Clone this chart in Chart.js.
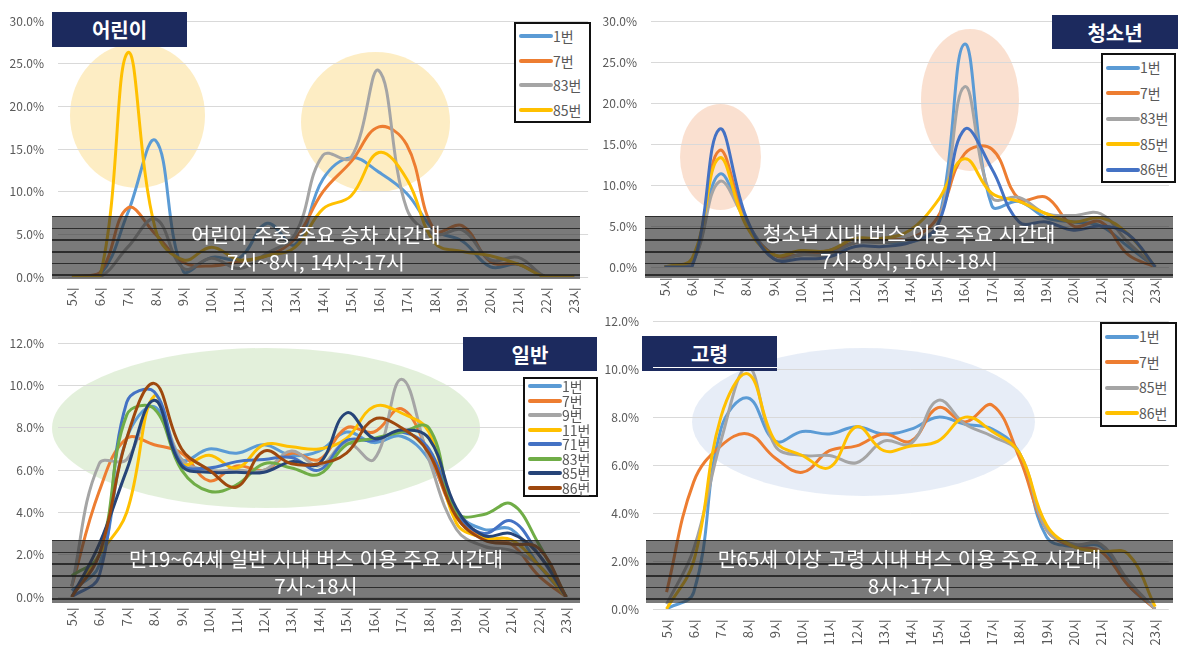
<!DOCTYPE html>
<html lang="ko">
<head>
<meta charset="utf-8">
<title>연령대별 시내버스 이용 시간대</title>
<script src="https://cdn.jsdelivr.net/npm/chart.js@4.4.1/dist/chart.umd.min.js"></script>
<style>
  html, body { margin: 0; padding: 0; background: #fff; }
  body { width: 1181px; height: 645px; position: relative; overflow: hidden;
         font-family: "Noto Sans CJK KR", "Noto Sans", sans-serif; }
  .ellipse { position: absolute; border-radius: 50%; z-index: 0; }
  .plot { position: absolute; z-index: 1; }
  .band { position: absolute; z-index: 2; color: #fff; font-size: 20.5px; line-height: 27px;
          text-align: center; display: flex; flex-direction: column; justify-content: center;
          background-color: rgba(50,50,50,0.65);
          background-image: repeating-linear-gradient(to bottom, rgba(25,25,25,0.8) 0 1.5px, transparent 1.5px 11.7px); }
  .title-box { position: absolute; z-index: 3; background: #1c2a5e; color: #fff; font-weight: bold;
               font-size: 20px; display: flex; align-items: center; justify-content: center; box-sizing: border-box; }
  .legend { position: absolute; z-index: 3; background: #fff; border: 2px solid #111; box-sizing: border-box;
            font-size: 14px; color: #595959; }
  .legend .row { display: flex; align-items: center; padding-left: 3px; }
  .legend .sw { width: 34px; height: 4px; border-radius: 2px; flex-shrink: 0; }
</style>
</head>
<body>

<!-- highlight ellipses (behind the lines) -->
<div class="ellipse" style="left:70px;top:43px;width:135px;height:145px;background:rgba(250,208,100,0.38)"></div>
<div class="ellipse" style="left:301px;top:52px;width:149px;height:140px;background:rgba(250,208,100,0.38)"></div>
<div class="ellipse" style="left:680px;top:104px;width:81px;height:106px;background:rgba(240,160,110,0.32)"></div>
<div class="ellipse" style="left:921px;top:29px;width:98px;height:142px;background:rgba(240,160,110,0.32)"></div>
<div class="ellipse" style="left:52px;top:348px;width:428px;height:160px;background:rgba(169,209,142,0.32)"></div>
<div class="ellipse" style="left:692px;top:348px;width:343px;height:148px;background:rgba(180,199,231,0.32)"></div>

<div class="plot" style="left:0;top:0;width:600px;height:322px"><canvas id="kidsChart"></canvas></div>
<div class="plot" style="left:590px;top:0;width:591px;height:320px"><canvas id="teenChart"></canvas></div>
<div class="plot" style="left:0;top:322px;width:600px;height:323px"><canvas id="adultChart"></canvas></div>
<div class="plot" style="left:590px;top:300px;width:591px;height:345px"><canvas id="elderChart"></canvas></div>

<!-- grey bands with notes -->
<div class="band" style="left:52px;top:216px;width:528px;height:63px"><div>어린이 주중 주요 승차 시간대</div><div>7시~8시, 14시~17시</div></div>
<div class="band" style="left:645px;top:216px;width:528px;height:62px"><div>청소년 시내 버스 이용 주요 시간대</div><div>7시~8시, 16시~18시</div></div>
<div class="band" style="left:52px;top:540px;width:528px;height:63px"><div>만19~64세 일반 시내 버스 이용 주요 시간대</div><div>7시~18시</div></div>
<div class="band" style="left:646px;top:540px;width:527px;height:63px"><div>만65세 이상 고령 시내 버스 이용 주요 시간대</div><div>8시~17시</div></div>

<!-- title boxes -->
<div class="title-box" style="left:52px;top:12px;width:135px;height:35px">어린이</div>
<div class="title-box" style="left:1052px;top:15px;width:126px;height:34px">청소년</div>
<div class="title-box" style="left:463px;top:337px;width:134px;height:34px">일반</div>
<div class="title-box" style="left:642px;top:336px;width:135px;height:35px">
  고령
  <div style="position:absolute;left:11px;right:0;bottom:3px;height:1.5px;background:#fff"></div>
</div>

<div class="legend" id="kidsLegend" style="left:514px;top:22px;width:77px;height:101px"></div>
<div class="legend" id="teenLegend" style="left:1101px;top:53px;width:75px;height:130px"></div>
<div class="legend" id="adultLegend" style="left:523px;top:377px;width:75px;height:120px"></div>
<div class="legend" id="elderLegend" style="left:1100px;top:322px;width:77px;height:105px"></div>

<script>
// ---- categories ----
const hours = ['5시','6시','7시','8시','9시','10시','11시','12시','13시','14시','15시','16시','17시','18시','19시','20시','21시','22시','23시'];

// ---- 어린이 (%) ----
const kids1  = [0, 0.2, 7.5, 16.0, 0.6, 2.3, 2.2, 6.3, 3.8, 11.5, 14.0, 12.3, 9.8, 5.5, 4.2, 1.2, 1.5, 0, 0];
const kids7  = [0, 0.5, 8.1, 5.0, 1.7, 1.3, 1.8, 2.5, 4.5, 10.0, 13.5, 17.6, 15.5, 5.5, 6.0, 1.8, 1.5, 0, 0];
const kids83 = [0, 0, 3.5, 6.8, 1.0, 2.2, 1.0, 2.8, 5.0, 14.3, 14.0, 24.2, 8.0, 5.0, 5.5, 2.0, 2.3, 0, 0];
const kids85 = [0, 0, 26.3, 5.5, 2.0, 3.5, 2.0, 2.5, 3.5, 8.0, 9.5, 14.6, 11.5, 4.0, 3.0, 2.5, 1.5, 0, 0];

// ---- 청소년 (%) ----
const teen1  = [0, 0.5, 11.3, 5.5, 1.5, 1.5, 1.8, 3.0, 3.0, 3.0, 5.0, 27.2, 7.5, 8.0, 6.0, 5.5, 5.0, 2.5, 0];
const teen7  = [0, 0.5, 14.2, 5.5, 1.5, 1.5, 2.0, 3.0, 3.5, 3.5, 6.0, 13.8, 14.4, 8.3, 8.5, 5.0, 5.5, 1.5, 0];
const teen83 = [0, 0.5, 10.4, 5.5, 1.0, 1.5, 1.5, 3.0, 3.0, 3.5, 5.0, 22.0, 8.5, 8.5, 6.5, 6.3, 6.5, 3.0, 0];
const teen85 = [0, 1.0, 13.3, 5.0, 1.5, 2.0, 2.0, 3.5, 3.5, 4.5, 8.0, 13.2, 9.0, 8.0, 6.5, 5.5, 6.0, 4.0, 0];
const teen86 = [0, 0, 16.8, 6.0, 1.0, 1.0, 1.2, 2.5, 2.5, 3.0, 5.0, 16.8, 12.0, 5.5, 5.5, 4.5, 5.0, 4.0, 0];

// ---- 일반 (%) ----
const adult1  = [0.3, 1.5, 7.5, 9.0, 6.5, 7.0, 6.8, 7.2, 6.7, 6.9, 7.8, 7.3, 7.6, 6.5, 4.0, 3.2, 3.2, 1.5, 0];
const adult7  = [0.5, 5.0, 7.5, 7.2, 6.8, 5.5, 6.2, 6.0, 6.8, 6.5, 8.0, 7.8, 8.9, 6.8, 3.8, 2.8, 2.5, 1.0, 0];
const adult9  = [0.5, 6.3, 6.5, 9.3, 6.5, 6.0, 6.0, 6.0, 6.9, 6.2, 7.3, 6.5, 10.3, 6.5, 3.2, 2.4, 2.2, 1.5, 0];
const adult11 = [0, 2.0, 4.0, 9.5, 6.3, 6.7, 6.1, 7.2, 7.1, 7.0, 7.5, 9.0, 8.7, 7.8, 3.5, 2.8, 2.7, 1.5, 0];
const adult71 = [0, 1.0, 9.2, 9.7, 6.3, 6.1, 6.4, 6.5, 6.6, 6.0, 7.4, 7.4, 7.8, 7.0, 4.0, 3.0, 3.6, 2.0, 0];
const adult83 = [1.0, 2.0, 8.6, 8.9, 6.0, 5.0, 5.3, 6.3, 6.1, 5.8, 7.2, 7.5, 7.8, 8.0, 4.0, 3.9, 4.4, 2.5, 0];
const adult85 = [0, 2.5, 6.0, 9.3, 6.2, 5.9, 5.9, 5.9, 6.4, 6.3, 8.7, 7.5, 7.9, 7.5, 4.2, 2.9, 3.0, 2.0, 0];
const adult86 = [0, 2.0, 7.5, 10.1, 7.0, 6.0, 5.2, 6.9, 6.3, 6.3, 6.8, 8.4, 8.0, 6.8, 3.8, 2.7, 2.5, 2.3, 0];

// ---- 고령 (%) ----
const elder1  = [0, 0.7, 7.5, 8.8, 7.0, 7.4, 7.3, 7.6, 7.3, 7.5, 8.0, 7.7, 7.5, 6.5, 3.0, 2.6, 2.6, 1.0, 0];
const elder7  = [0.7, 5.3, 6.8, 7.3, 6.3, 5.7, 6.6, 6.8, 7.3, 7.0, 8.4, 7.8, 8.5, 6.3, 3.3, 2.6, 2.4, 1.0, 0];
const elder85 = [0.2, 2.5, 7.0, 10.1, 6.8, 6.4, 6.4, 6.1, 7.0, 6.9, 8.7, 7.7, 7.2, 6.5, 3.3, 2.7, 2.7, 1.2, 0];
const elder86 = [0, 2.0, 8.0, 9.8, 7.0, 6.4, 5.9, 7.6, 6.6, 6.8, 7.0, 8.0, 7.4, 6.5, 3.5, 2.6, 2.4, 2.3, 0.1];

// ---- colours ----
const c = {
  blue: '#5b9bd5', orange: '#ed7d31', gray: '#a5a5a5', gold: '#ffc000',
  royal: '#4472c4', green: '#70ad47', navy: '#264478', brown: '#9e480e'
};

const kidsSeries = [
  { label: '1번', data: kids1, color: c.blue },
  { label: '7번', data: kids7, color: c.orange },
  { label: '83번', data: kids83, color: c.gray },
  { label: '85번', data: kids85, color: c.gold }
];
const teenSeries = [
  { label: '1번', data: teen1, color: c.blue },
  { label: '7번', data: teen7, color: c.orange },
  { label: '83번', data: teen83, color: c.gray },
  { label: '85번', data: teen85, color: c.gold },
  { label: '86번', data: teen86, color: c.royal }
];
const adultSeries = [
  { label: '1번', data: adult1, color: c.blue },
  { label: '7번', data: adult7, color: c.orange },
  { label: '9번', data: adult9, color: c.gray },
  { label: '11번', data: adult11, color: c.gold },
  { label: '71번', data: adult71, color: c.royal },
  { label: '83번', data: adult83, color: c.green },
  { label: '85번', data: adult85, color: c.navy },
  { label: '86번', data: adult86, color: c.brown }
];
const elderSeries = [
  { label: '1번', data: elder1, color: c.blue },
  { label: '7번', data: elder7, color: c.orange },
  { label: '85번', data: elder85, color: c.gray },
  { label: '86번', data: elder86, color: c.gold }
];

Chart.defaults.font.family = '"Noto Sans CJK KR", "Noto Sans", sans-serif';
const tc = '#595959';

function makeChart(id, series, o) {
  return new Chart(document.getElementById(id), {
    type: 'line',
    data: {
      labels: hours,
      datasets: series.map((s, i) => ({
        label: s.label, data: s.data,
        borderColor: s.color, backgroundColor: s.color,
        borderWidth: 3, pointRadius: 0, tension: 0.4, fill: false,
        order: -i   // later series on top, like the original sheet
      }))
    },
    options: {
      responsive: true, maintainAspectRatio: false, animation: false,
      layout: { padding: { top: o.top, right: o.right, left: 0, bottom: 0 } },
      plugins: { legend: { display: false }, tooltip: { enabled: false } },
      scales: {
        x: {
          offset: true,
          grid: { display: false, drawTicks: false },
          border: { display: false },
          ticks: { minRotation: 90, maxRotation: 90, padding: 10, color: tc, font: { size: 13 } },
          afterFit: s => { s.height = o.xh; }
        },
        y: {
          min: 0, max: o.max,
          grid: { color: '#d9d9d9', drawTicks: false },
          border: { display: false },
          ticks: { stepSize: o.step, padding: 14, color: tc, font: { size: 12 },
                   callback: v => v.toFixed(1) + '%' },
          afterFit: s => { s.width = o.yw; }
        }
      }
    }
  });
}

function makeLegend(id, series, rowH) {
  const el = document.getElementById(id);
  series.forEach(s => {
    el.innerHTML += `<div class="row" style="height:${rowH}px;line-height:${rowH}px">
      <span class="sw" style="background:${s.color}"></span><span>${s.label}</span></div>`;
  });
}

makeChart('kidsChart',  kidsSeries,  { top: 17, right: 10, yw: 58, xh: 45, max: 30, step: 5 });
makeChart('teenChart',  teenSeries,  { top: 17, right: 2,  yw: 61, xh: 53, max: 30, step: 5 });
makeChart('adultChart', adultSeries, { top: 14, right: 20, yw: 58, xh: 48, max: 12, step: 2 });
makeChart('elderChart', elderSeries, { top: 21, right: 8,  yw: 63, xh: 36, max: 12, step: 2 });

makeLegend('kidsLegend', kidsSeries, 24.5);
makeLegend('teenLegend', teenSeries, 25.5);
makeLegend('adultLegend', adultSeries, 14.5);
makeLegend('elderLegend', elderSeries, 25.5);
</script>
</body>
</html>
